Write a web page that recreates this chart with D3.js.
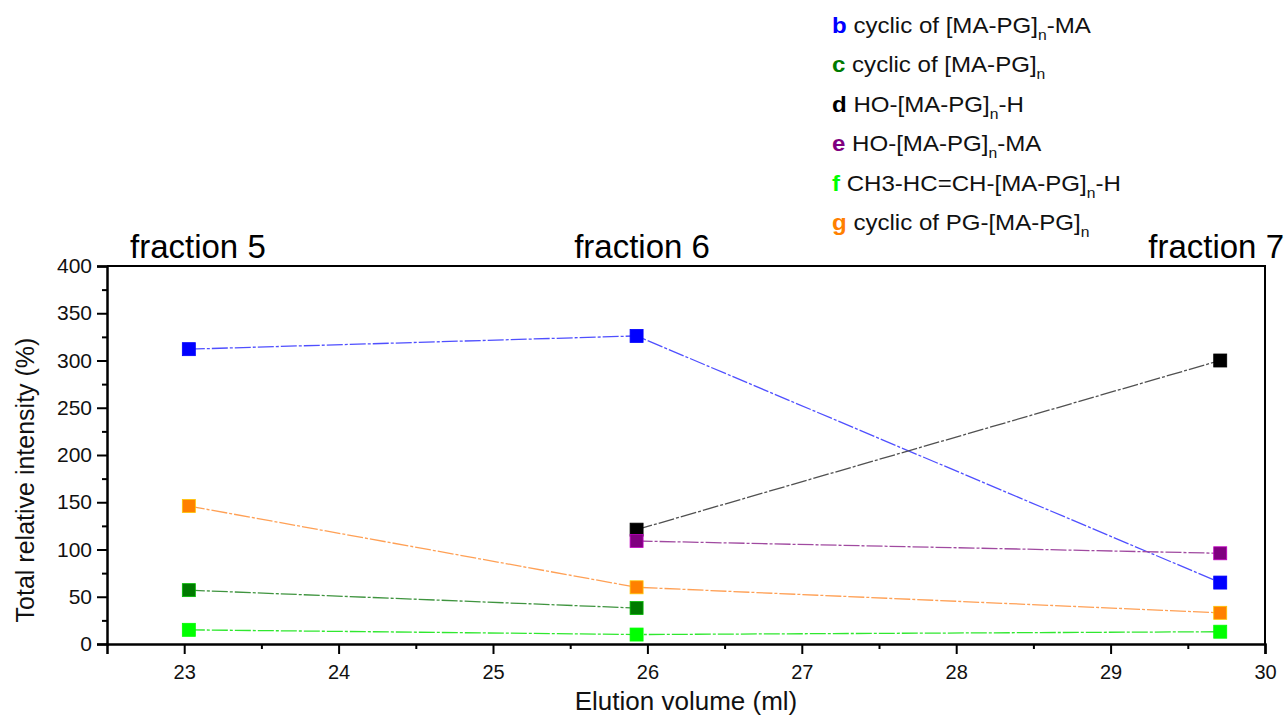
<!DOCTYPE html>
<html>
<head>
<meta charset="utf-8">
<script src="https://cdn.jsdelivr.net/npm/d3@7"></script>
<style>
  html, body { margin: 0; padding: 0; background: #fff; }
  svg { display: block; font-family: "Liberation Sans", Arial, sans-serif; }
</style>
</head>
<body>
<svg id="chart" width="1287" height="718"></svg>
<script>
// Elution volumes of the three fractions (ml)
const volumes = [23.03, 25.93, 29.71];

// Total relative intensity (%) per series; null = not detected in that fraction
const seriesB = [312, 326, 65];
const seriesC = [57, 38, null];
const seriesD = [null, 121, 300];
const seriesE = [null, 109, 96];
const seriesF = [15, 10, 13];
const seriesG = [146, 60, 33];

const seriesKeys = ["b", "c", "d", "e", "f", "g"];
const seriesValues = [seriesB, seriesC, seriesD, seriesE, seriesF, seriesG];
const markerColors = ["#0000ff", "#007a00", "#000000", "#800080", "#00ff00", "#ff8000"];
const lineColors = ["#4f4fff", "#3f943f", "#505050", "#a04aa0", "#2fe82f", "#ffa055"];

// Legend texts: [before subscript, after subscript]
const legendLetters = ["b", "c", "d", "e", "f", "g"];
const legendTexts = [
  ["cyclic of [MA-PG]", "-MA"],
  ["cyclic of [MA-PG]", ""],
  ["HO-[MA-PG]", "-H"],
  ["HO-[MA-PG]", "-MA"],
  ["CH3-HC=CH-[MA-PG]", "-H"],
  ["cyclic of PG-[MA-PG]", ""]
];

const fractionLabels = ["fraction 5", "fraction 6", "fraction 7"];

const yTicks = [0, 50, 100, 150, 200, 250, 300, 350, 400];
const xTicks = [23, 24, 25, 26, 27, 28, 29, 30];

const svg = d3.select("#chart");
const mLeft = 107, mRight = 1265, mTop = 266, mBottom = 644;

const x = d3.scaleLinear().domain([22.5, 30]).range([mLeft, mRight]);
const y = d3.scaleLinear().domain([0, 400]).range([mBottom, mTop]);

// Frame (top and right edges)
svg.append("path")
  .attr("d", `M${mLeft},${mTop}H${mRight}V${mBottom}`)
  .attr("fill", "none").attr("stroke", "#000").attr("stroke-width", 2);

// Y axis: major ticks with labels, minor ticks between
const yAxisG = svg.append("g").attr("transform", `translate(${mLeft},0)`)
  .call(d3.axisLeft(y).tickValues(yTicks).tickSize(10).tickPadding(5));
yAxisG.selectAll(".tick text").attr("font-size", 21);
svg.append("g").attr("transform", `translate(${mLeft},0)`)
  .call(d3.axisLeft(y).tickValues(d3.range(25, 400, 50)).tickSize(5).tickFormat(""))
  .call(g => g.select(".domain").remove());

// X axis
const xAxisG = svg.append("g").attr("transform", `translate(0,${mBottom})`)
  .call(d3.axisBottom(x).tickValues(xTicks).tickSize(10).tickPadding(11));
xAxisG.selectAll(".tick text").attr("font-size", 20);
svg.append("g").attr("transform", `translate(0,${mBottom})`)
  .call(d3.axisBottom(x).tickValues(d3.range(23.5, 30, 1)).tickSize(5).tickFormat(""))
  .call(g => g.select(".domain").remove());

svg.selectAll(".domain").attr("stroke", "#000").attr("stroke-width", 2.5);
svg.selectAll(".tick line").attr("stroke", "#000").attr("stroke-width", 2);
svg.selectAll(".tick text")
  .attr("fill", "#111")
  .attr("font-family", "Liberation Sans, Arial, sans-serif");

// Axis titles
svg.append("text")
  .attr("transform", `translate(34,${(mTop + mBottom) / 2 + 25}) rotate(-90)`)
  .attr("text-anchor", "middle").attr("font-size", 25).attr("fill", "#111")
  .text("Total relative intensity (%)");
svg.append("text")
  .attr("x", 686).attr("y", 710)
  .attr("text-anchor", "middle").attr("font-size", 26).attr("fill", "#111")
  .text("Elution volume (ml)");

// Fraction labels above the plot
const fracAnchors = ["start", "middle", "end"];
const fracX = [130, 642, 1284];
fractionLabels.forEach((t, i) => {
  svg.append("text")
    .attr("x", fracX[i]).attr("y", 258)
    .attr("text-anchor", fracAnchors[i])
    .attr("font-size", 33).attr("fill", "#000")
    .text(t);
});

// Series lines and markers
const half = 6.5;
seriesValues.forEach((vals, si) => {
  const pts = volumes.map((v, i) => [v, vals[i]]).filter(p => p[1] !== null);
  const line = d3.line().x(p => x(p[0])).y(p => y(p[1]));
  svg.append("path")
    .attr("d", line(pts))
    .attr("fill", "none")
    .attr("stroke", lineColors[si])
    .attr("stroke-width", 1.3)
    .attr("stroke-dasharray", "16,2,3,2");
  svg.append("g").selectAll("rect").data(pts).join("rect")
    .attr("x", p => x(p[0]) - half)
    .attr("y", p => y(p[1]) - half)
    .attr("width", half * 2).attr("height", half * 2)
    .attr("fill", markerColors[si])
    .attr("stroke", d3.color(markerColors[si]).brighter(1.2))
    .attr("stroke-width", 0.8);
});

// Legend (slightly widened lettering)
const lg = svg.append("g").attr("transform", "translate(832,0) scale(1.12,1)");
legendLetters.forEach((l, i) => {
  const ty = 33 + i * 39.4;
  const t = lg.append("text").attr("x", 0).attr("y", ty).attr("font-size", 21.5).attr("fill", "#111");
  t.append("tspan").attr("font-weight", "bold").attr("fill", markerColors[i]).text(l);
  t.append("tspan").text(" " + legendTexts[i][0]);
  t.append("tspan").attr("font-size", 14).attr("dy", 7).text("n");
  if (legendTexts[i][1]) t.append("tspan").attr("dy", -7).text(legendTexts[i][1]);
});
</script>
</body>
</html>
